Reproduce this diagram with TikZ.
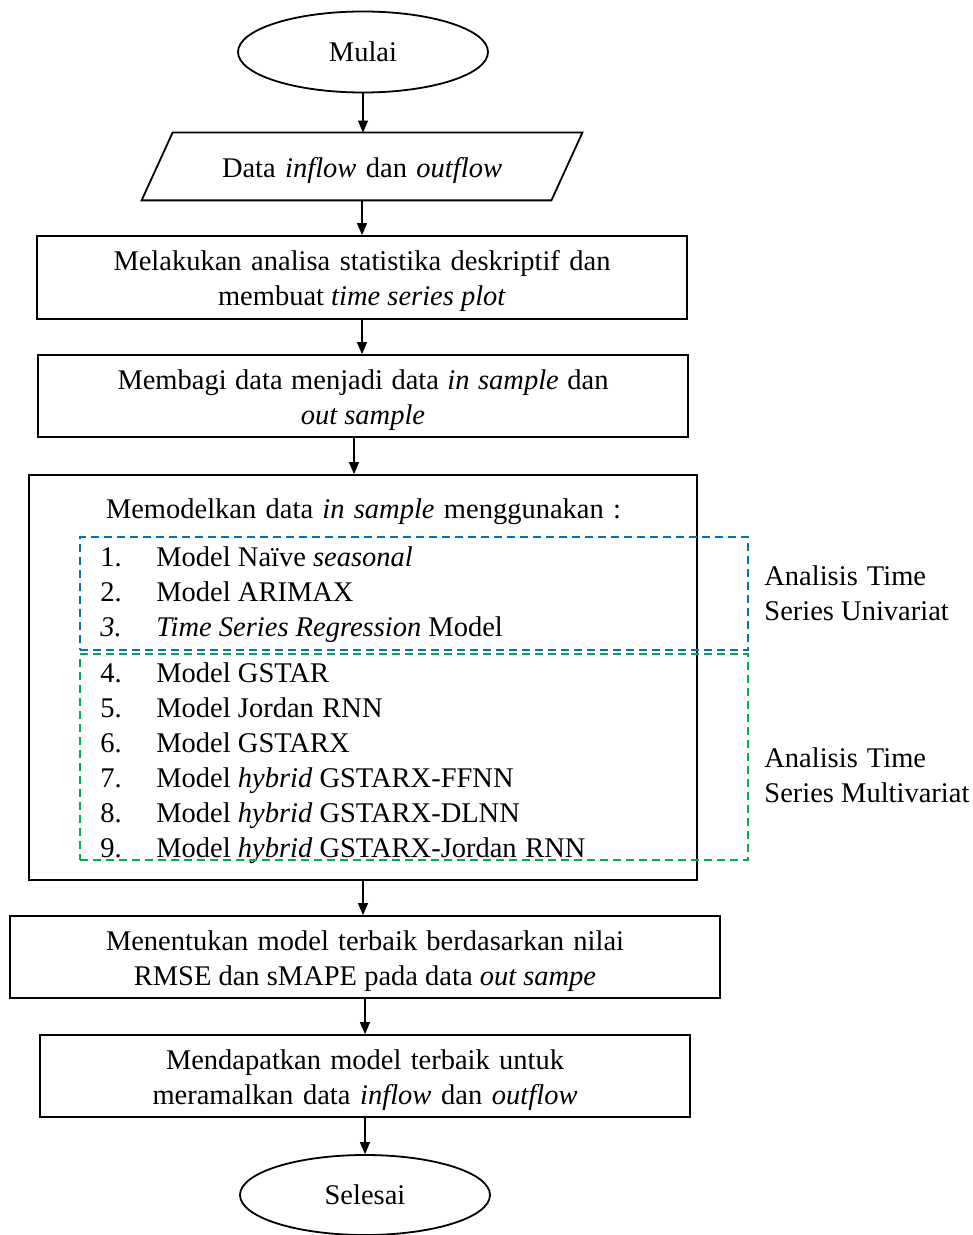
\documentclass[tikz,border=0pt]{standalone}
\usepackage{fontspec}
\setmainfont{Liberation Serif}
\usetikzlibrary{shapes.geometric,arrows.meta}
\definecolor{grpblue}{HTML}{0070C0}
\definecolor{grpgreen}{HTML}{00B050}
\begin{document}
\begin{tikzpicture}[x=0.5pt,y=-0.5pt,
  every node/.style={font=\fontsize{14.25pt}{17.5pt}\selectfont},
  box/.style={draw, line width=0.9pt, inner sep=0pt},
  boxtext/.style={align=center, inner sep=0pt},
  term/.style={draw, ellipse, line width=0.9pt, inner sep=0pt, minimum width=125pt, minimum height=40.5pt},
  arr/.style={-{Triangle[width=5pt,length=6pt]}, line width=0.6pt},
  txt/.style={anchor=base west, inner sep=0pt},
  grp/.style={draw, dash pattern=on 4pt off 2.5pt, line width=0.9pt, inner sep=0pt}]

\useasboundingbox (0,0) rectangle (973,1235);

% start / input
\node[term] (start) at (363,52) {\raisebox{-0.5pt}{Mulai}};
\node[minimum width=220pt, minimum height=33.5pt, inner sep=0pt] (data) at (362,166.5) {};
\node[boxtext] (datat) at ([yshift=-2pt]data.center)
  {\makebox[140pt][s]{Data \textit{inflow} dan \textit{outflow}}};
\draw[line width=0.9pt] ([xshift=15.5pt]data.north west) -- (data.north east)
  -- ([xshift=-15.5pt]data.south east) -- (data.south west) -- cycle;

% processing steps
\node[box, minimum width=325pt, minimum height=41.5pt] (b1) at (362,277.5) {};
\node[boxtext] (b1t) at ([yshift=-2pt]b1.center)
  {\makebox[248.5pt][s]{Melakukan analisa statistika deskriptif dan}\\membuat \textit{time series plot}};
\node[box, minimum width=325pt, minimum height=41pt] (b2) at (363,396) {};
\node[boxtext] (b2t) at ([yshift=-2pt]b2.center)
  {\makebox[245.5pt][s]{Membagi data menjadi data \textit{in sample} dan}\\\textit{out sample}};

% modelling block
\node[box, minimum width=334pt, minimum height=202.5pt] (model) at (363,677.5) {};
\node[anchor=base, inner sep=0pt] (head) at (363.5,518)
  {\makebox[257.5pt][s]{Memodelkan data \textit{in sample} menggunakan :}};

\node[txt] (n1) at (100,566) {1.};
\node[txt] (t1) at (156,566) {Model Naïve \textit{seasonal}};
\node[txt] (n2) at (100,601) {2.};
\node[txt] (t2) at (156,601) {Model ARIMAX};
\node[txt] (n3) at (100,636) {\textit{3.}};
\node[txt] (t3) at (156,636) {\textit{Time Series Regression} Model};
\node[txt] (n4) at (100,682) {4.};
\node[txt] (t4) at (156,682) {Model GSTAR};
\node[txt] (n5) at (100,717) {5.};
\node[txt] (t5) at (156,717) {Model Jordan\hspace{0.3em}RNN};
\node[txt] (n6) at (100,752) {6.};
\node[txt] (t6) at (156,752) {Model GSTARX};
\node[txt] (n7) at (100,787) {7.};
\node[txt] (t7) at (156,787) {Model \textit{hybrid} GSTARX-FFNN};
\node[txt] (n8) at (100,822) {8.};
\node[txt] (t8) at (156,822) {Model \textit{hybrid} GSTARX-DLNN};
\node[txt] (n9) at (100,857) {9.};
\node[txt] (t9) at (156,857) {Model \textit{hybrid} GSTARX-Jordan\hspace{0.3em}RNN};

% analysis groups
\node[grp, draw=grpblue, minimum width=334pt, minimum height=56.5pt] (uni) at (414,593.5) {};
\node[grp, draw=grpgreen, minimum width=334pt, minimum height=103pt] (multi) at (414,757) {};
\node[txt] (uniA) at (764,585) {Analisis\hspace{0.32em}Time};
\node[txt] (uniB) at (764,620) {Series Univariat};
\node[txt] (mulA) at (764,767) {Analisis\hspace{0.32em}Time};
\node[txt] (mulB) at (764,802) {Series Multivariat};

% evaluation and end
\node[box, minimum width=355pt, minimum height=41pt] (b3) at (365,957) {};
\node[boxtext] (b3t) at ([yshift=-2pt]b3.center)
  {\makebox[259pt][s]{Menentukan model terbaik berdasarkan nilai}\\RMSE dan sMAPE pada data \textit{out sampe}};
\node[box, minimum width=325pt, minimum height=41pt] (b4) at (365,1076) {};
\node[boxtext] (b4t) at ([yshift=-2pt]b4.center)
  {\makebox[199pt][s]{Mendapatkan model terbaik untuk}\\\makebox[212.5pt][s]{meramalkan data \textit{inflow} dan \textit{outflow}}};
\node[term, minimum height=40pt] (stop) at (365,1195) {\raisebox{-0.5pt}{Selesai}};

% connectors
\draw[arr] (start.south) -- (start.south |- data.north);
\draw[arr] (data.south) -- (data.south |- b1.north);
\draw[arr] (b1.south) -- (b1.south |- b2.north);
\draw[arr] ([xshift=-4.5pt]b2.south) -- ([xshift=-4.5pt]b2.south |- model.north);
\draw[arr] (model.south) -- (model.south |- b3.north);
\draw[arr] (b3.south) -- (b3.south |- b4.north);
\draw[arr] (b4.south) -- (b4.south |- stop.north);
\end{tikzpicture}
\end{document}
